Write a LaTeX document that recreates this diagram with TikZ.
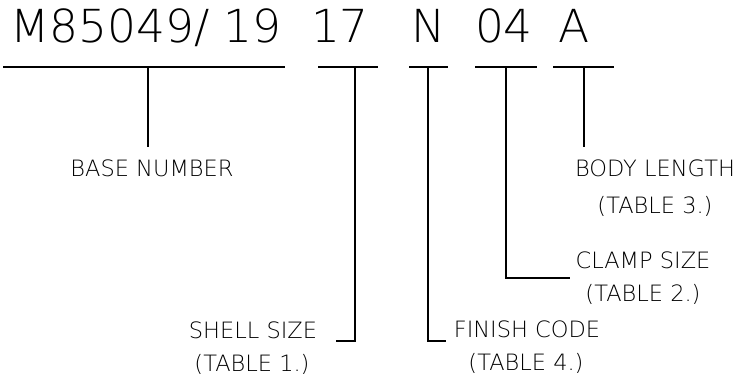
\documentclass[tikz,border=0pt]{standalone}
\usepackage{fontspec}
\setmainfont{DejaVu Sans ExtraLight}
\begin{document}
\begin{tikzpicture}[x=1pt,y=-1pt,
  ln/.style={line width=1.6pt},
  big/.style={anchor=base,inner sep=0pt,font=\fontsize{45.5}{50}\selectfont},
  lbl/.style={anchor=base,inner sep=0pt,font=\fontsize{22.5}{26}\selectfont}]
\useasboundingbox (0,0) rectangle (739,378);
% top code
\node[big] (t1) at (146,42) {M85049/ 19};
\node[big] (t2) at (340,42) {17};
\node[big] (t3) at (429,42) {N};
\node[big] (t4) at (504,42) {04};
\node[big] (t5) at (574,42) {A};
% underlines
\coordinate (u1a) at (3,67);   \coordinate (u1b) at (285,67);
\coordinate (u2a) at (318,67); \coordinate (u2b) at (378,67);
\coordinate (u3a) at (409,67); \coordinate (u3b) at (448,67);
\coordinate (u4a) at (475,67); \coordinate (u4b) at (537,67);
\coordinate (u5a) at (553,67); \coordinate (u5b) at (614,67);
\draw[ln] (u1a) -- (u1b);
\draw[ln] (u2a) -- (u2b);
\draw[ln] (u3a) -- (u3b);
\draw[ln] (u4a) -- (u4b);
\draw[ln] (u5a) -- (u5b);
% labels
\node[lbl] (base) at (152,176) {BASE NUMBER};
\node[lbl] (body) at (655,176) {BODY LENGTH};
\node[lbl] (body2) at (655,213) {(TABLE 3.)};
\node[lbl] (clamp) at (643,268) {CLAMP SIZE};
\node[lbl] (clamp2) at (643,301) {(TABLE 2.)};
\node[lbl] (fin) at (527,337) {FINISH CODE};
\node[lbl] (fin2) at (526,370) {(TABLE 4.)};
\node[lbl] (shell) at (253,338) {SHELL SIZE};
\node[lbl] (shell2) at (252,371) {(TABLE 1.)};
% connectors
\coordinate (c1a) at (148,67);  \coordinate (c1b) at (148,147);
\coordinate (c2a) at (355,67);  \coordinate (c2b) at (355,341); \coordinate (c2c) at (336,341);
\coordinate (c3a) at (428,67);  \coordinate (c3b) at (428,341); \coordinate (c3c) at (446,341);
\coordinate (c4a) at (506,67);  \coordinate (c4b) at (506,278); \coordinate (c4c) at (570,278);
\coordinate (c5a) at (584,67);  \coordinate (c5b) at (584,147);
\draw[ln] (c1a) -- (c1b);
\draw[ln] (c2a) -- (c2b) -- (c2c);
\draw[ln] (c3a) -- (c3b) -- (c3c);
\draw[ln] (c4a) -- (c4b) -- (c4c);
\draw[ln] (c5a) -- (c5b);
\end{tikzpicture}
\end{document}
